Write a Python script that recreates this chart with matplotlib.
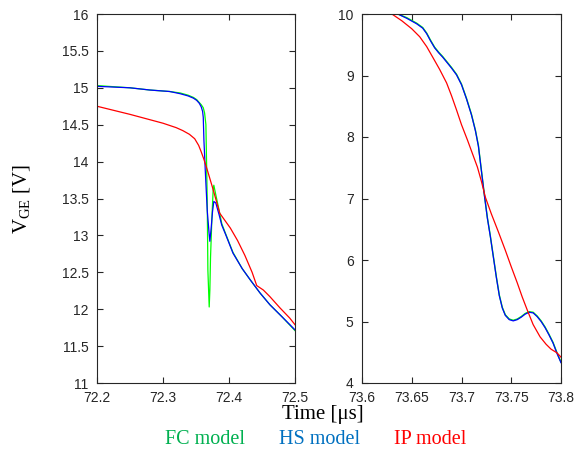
import numpy as np
import matplotlib
matplotlib.use('Agg')
import matplotlib.pyplot as plt

plt.rcParams['font.family'] = 'Liberation Sans'
plt.rcParams['mathtext.fontset'] = 'custom'
plt.rcParams['mathtext.rm'] = 'Liberation Serif'
plt.rcParams['mathtext.it'] = 'Liberation Serif:italic'

# left panel, time in us, V_GE in V
t_fc_l = [72.2, 72.25, 72.28, 72.31, 72.326, 72.338, 72.346, 72.351, 72.355, 72.358, 72.361, 72.363,
          72.365, 72.367, 72.368, 72.370, 72.371, 72.372, 72.374, 72.376, 72.377, 72.380, 72.385,
          72.389, 72.395, 72.406, 72.42, 72.432, 72.447, 72.462, 72.48, 72.5]
v_fc_l = [15.03, 15.0, 14.97, 14.95, 14.93, 14.9, 14.87, 14.84, 14.8, 14.77, 14.73, 14.66,
          14.5, 13.48, 12.53, 12.03, 12.26, 12.7, 13.21, 13.62, 13.68, 13.55, 13.34,
          13.16, 13.02, 12.77, 12.55, 12.4, 12.22, 12.06, 11.9, 11.71]

t_hs_l = [72.2, 72.25, 72.28, 72.31, 72.326, 72.338, 72.346, 72.351, 72.355, 72.358, 72.360, 72.361,
          72.362, 72.364, 72.367, 72.370, 72.371, 72.373, 72.375, 72.377, 72.380, 72.385, 72.389,
          72.395, 72.406, 72.42, 72.432, 72.447, 72.462, 72.48, 72.5]
v_hs_l = [15.02, 15.0, 14.97, 14.95, 14.92, 14.89, 14.86, 14.83, 14.79, 14.74, 14.68, 14.6,
          14.29, 13.89, 13.34, 13.01, 12.92, 13.1, 13.32, 13.46, 13.44, 13.28, 13.14,
          13.01, 12.76, 12.55, 12.4, 12.22, 12.06, 11.9, 11.72]

t_ip_l = [72.2, 72.25, 72.3, 72.32, 72.33, 72.34, 72.348, 72.354, 72.358, 72.362, 72.367, 72.376,
          72.386, 72.394, 72.402, 72.413, 72.424, 72.435, 72.442, 72.447, 72.452, 72.462, 72.477,
          72.492, 72.5]
v_ip_l = [14.75, 14.64, 14.52, 14.46, 14.42, 14.37, 14.31, 14.22, 14.13, 14.03, 13.89, 13.62,
          13.3, 13.2, 13.1, 12.93, 12.73, 12.5, 12.32, 12.29, 12.26, 12.17, 12.02,
          11.88, 11.79]

# right panel
t_hs_r = [73.628, 73.636, 73.645, 73.655, 73.661, 73.665, 73.669, 73.673, 73.677, 73.681, 73.685,
          73.690, 73.695, 73.700, 73.705, 73.710, 73.714, 73.717, 73.720, 73.723, 73.726, 73.729,
          73.732, 73.735, 73.738, 73.741, 73.744, 73.748, 73.752, 73.756, 73.760, 73.764, 73.768,
          73.772, 73.776, 73.780, 73.784, 73.788, 73.792, 73.796, 73.8]
v_hs_r = [10.1, 10.0, 9.93, 9.84, 9.77, 9.68, 9.56, 9.45, 9.37, 9.3, 9.22,
          9.12, 9.01, 8.85, 8.62, 8.36, 8.1, 7.85, 7.45, 7.05, 6.68, 6.38,
          6.05, 5.72, 5.42, 5.22, 5.1, 5.03, 5.01, 5.03, 5.07, 5.12, 5.15,
          5.14, 5.08, 5.0, 4.9, 4.78, 4.65, 4.48, 4.33]

t_fc_r = t_hs_r
v_fc_r = [10.1, 10.0, 9.94, 9.85, 9.78, 9.69, 9.57, 9.46, 9.38, 9.31, 9.23,
          9.13, 9.02, 8.86, 8.63, 8.37, 8.11, 7.86, 7.46, 7.06, 6.69, 6.39,
          6.06, 5.73, 5.43, 5.23, 5.11, 5.04, 5.02, 5.04, 5.08, 5.13, 5.16,
          5.15, 5.09, 5.01, 4.91, 4.79, 4.66, 4.49, 4.34]

t_ip_r = [73.622, 73.63, 73.64, 73.65, 73.658, 73.665, 73.671, 73.678, 73.685, 73.69, 73.695,
          73.70, 73.706, 73.711, 73.716, 73.72, 73.724, 73.73, 73.737, 73.744, 73.75, 73.756,
          73.761, 73.766, 73.772, 73.779, 73.785, 73.79, 73.796, 73.8]
v_ip_r = [10.1, 10.0, 9.89, 9.76, 9.63, 9.47, 9.3, 9.1, 8.88, 8.67, 8.44,
          8.2, 7.95, 7.73, 7.51, 7.28, 7.02, 6.75, 6.46, 6.16, 5.89, 5.63,
          5.4, 5.19, 4.95, 4.75, 4.63, 4.55, 4.49, 4.42]

xt_l = [72.2, 72.3, 72.4, 72.5]
yt_l = np.arange(11, 16.01, 0.5)
xt_r = [73.6, 73.65, 73.7, 73.75, 73.8]
yt_r = np.arange(4, 10.01, 1)

tick_col = '#262626'

fig = plt.figure(figsize=(5.74, 4.54), dpi=100)
ax1 = fig.add_axes([97/574, 1-383/454, 198/574, 369/454])
ax2 = fig.add_axes([362/574, 1-383/454, 199/574, 369/454])

ax1.plot(t_fc_l, v_fc_l, color='#00ff00', lw=0.9)
ax1.plot(t_hs_l, v_hs_l, color='#0000ff', lw=0.9)
ax1.plot(t_ip_l, v_ip_l, color='#ff0000', lw=0.9)
ax2.plot(t_fc_r, v_fc_r, color='#00ff00', lw=1.0)
ax2.plot(t_hs_r, v_hs_r, color='#0000ff', lw=0.9)
ax2.plot(t_ip_r, v_ip_r, color='#ff0000', lw=0.9)

ax1.set_xlim(72.2, 72.5)
ax1.set_ylim(11, 16)
ax1.set_xticks(xt_l)
ax1.set_xticklabels(['72.2', '72.3', '72.4', '72.5'])
ax1.set_yticks(yt_l)
ax1.set_yticklabels(['11', '11.5', '12', '12.5', '13', '13.5', '14', '14.5', '15', '15.5', '16'])

ax2.set_xlim(73.6, 73.8)
ax2.set_ylim(4, 10)
ax2.set_xticks(xt_r)
ax2.set_xticklabels(['73.6', '73.65', '73.7', '73.75', '73.8'])
ax2.set_yticks(yt_r)
ax2.set_yticklabels([str(int(v)) for v in yt_r])

for ax in (ax1, ax2):
    ax.tick_params(direction='in', top=True, right=True, length=4, width=0.8,
                   labelsize=10, colors=tick_col, pad=6)
    for s in ax.spines.values():
        s.set_color(tick_col)
        s.set_linewidth(0.8)

fig.text(0.562, 0.088, 'Time [\u03bcs]', family='Liberation Serif', fontsize=15,
         ha='center', va='center', color='black')
fig.text(0.038, 0.562, r'V$_{\rm GE}$ [V]', family='Liberation Serif', fontsize=15,
         ha='center', va='center', rotation=90, color='black')
fig.text(205/574, 1-440/454, 'FC model', family='Liberation Serif', fontsize=14.5,
         ha='center', va='center', color='#00b050')
fig.text(320/574, 1-440/454, 'HS model', family='Liberation Serif', fontsize=14.5,
         ha='center', va='center', color='#0070c0')
fig.text(430/574, 1-440/454, 'IP model', family='Liberation Serif', fontsize=14.5,
         ha='center', va='center', color='#ff0000')

fig.savefig('out.png', dpi=100)
